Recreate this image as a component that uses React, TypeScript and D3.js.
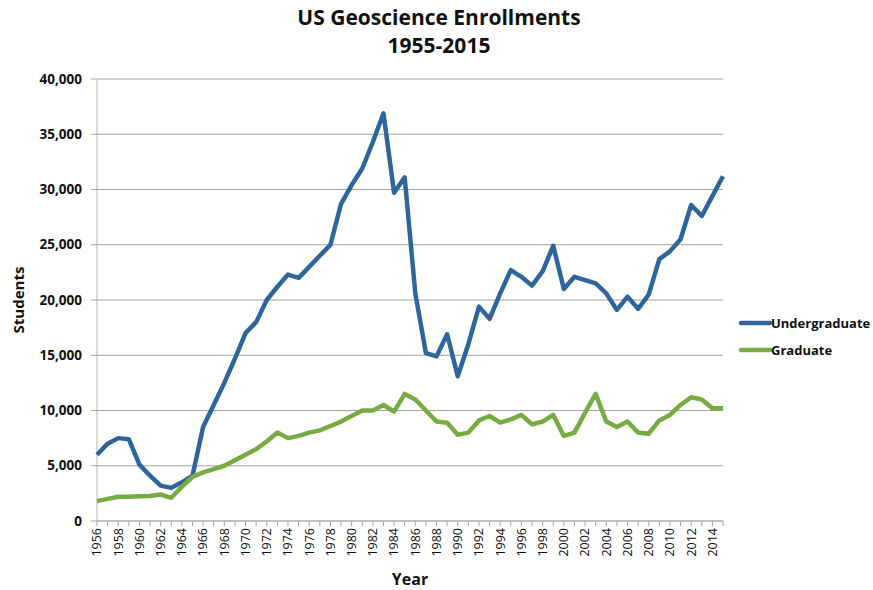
import * as d3 from 'd3';

const years = d3.range(1956, 2016);

const undergraduate = [
  6000, 7000, 7500, 7400, 5100, 4100, 3200, 3000, 3500, 4100,
  8500, 10500, 12500, 14700, 17000, 18000, 20000, 21200, 22300, 22000,
  23000, 24000, 25000, 28700, 30400, 31900, 34300, 36900, 29700, 31100,
  20600, 15200, 14900, 16900, 13100, 16000, 19400, 18300, 20600, 22700,
  22100, 21300, 22600, 24900, 21000, 22100, 21800, 21500, 20600, 19100,
  20300, 19200, 20500, 23700, 24400, 25500, 28600, 27600, 29400, 31200,
];

const graduate = [
  1800, 2000, 2200, 2200, 2250, 2270, 2400, 2100, 3100, 4000,
  4400, 4700, 5000, 5500, 6000, 6500, 7200, 8000, 7500, 7700,
  8000, 8200, 8600, 9000, 9500, 10000, 10000, 10500, 9900, 11500,
  11000, 10000, 9000, 8900, 7800, 8000, 9100, 9500, 8900, 9200,
  9600, 8750, 9000, 9600, 7700, 8000, 9800, 11500, 9000, 8500,
  9000, 8000, 7900, 9100, 9600, 10500, 11200, 11000, 10200, 10200,
];

const yTicks = [0, 5000, 10000, 15000, 20000, 25000, 30000, 35000, 40000];

const series = [
  { name: 'Undergraduate', values: undergraduate, color: '#2f659f' },
  { name: 'Graduate', values: graduate, color: '#77ac42' },
];

const font = '"Open Sans", "DejaVu Sans", sans-serif';

export default function App() {
  const width = 873;
  const height = 590;
  const left = 97;
  const right = 723;
  const top = 79;
  const bottom = 521;

  const x = d3.scaleLinear().domain([1956, 2015]).range([left, right]);
  const y = d3.scaleLinear().domain([0, 40000]).range([bottom, top]);
  const fmt = d3.format(',');

  const line = d3
    .line<number>()
    .x((_, i) => x(years[i]))
    .y((d) => y(d));

  return (
    <svg
      width={width}
      height={height}
      style={{ position: 'absolute', left: 0, top: 0, background: '#fff' }}
      fontFamily={font}
    >
      {/* Title */}
      <text x={439} y={25} textAnchor="middle" fontSize={21} fontWeight="bold" fill="#111">
        US Geoscience Enrollments
      </text>
      <text x={439} y={53} textAnchor="middle" fontSize={21} fontWeight="bold" fill="#111">
        1955-2015
      </text>

      {/* Gridlines */}
      {yTicks.map((t) => (
        <line key={t} x1={left} x2={right} y1={y(t)} y2={y(t)} stroke="#a3a3a3" strokeWidth={1} />
      ))}

      {/* Y axis */}
      <line x1={left} x2={left} y1={top} y2={bottom} stroke="#b5b5b5" strokeWidth={1} />
      {yTicks.map((t) => (
        <g key={'yt' + t}>
          <line x1={left - 6} x2={left} y1={y(t)} y2={y(t)} stroke="#a3a3a3" />
          <text
            x={left - 15}
            y={y(t)}
            dy="0.35em"
            textAnchor="end"
            fontSize={13.5}
            fontWeight="bold"
            fill="#111"
          >
            {fmt(t)}
          </text>
        </g>
      ))}
      <text
        transform={`translate(24,${(top + bottom) / 2}) rotate(-90)`}
        textAnchor="middle"
        fontSize={15}
        fontWeight="bold"
        fill="#111"
      >
        Students
      </text>

      {/* X axis */}
      <line x1={left} x2={right} y1={bottom} y2={bottom} stroke="#b5b5b5" />
      {years.map((yr) => (
        <line key={'xt' + yr} x1={x(yr)} x2={x(yr)} y1={bottom} y2={bottom + 5} stroke="#a3a3a3" />
      ))}
      {years
        .filter((yr) => yr % 2 === 0)
        .map((yr) => (
          <text
            key={'xl' + yr}
            transform={`translate(${x(yr)},${bottom + 7}) rotate(-90)`}
            textAnchor="end"
            dy="0.35em"
            fontSize={12.5}
            fill="#111"
          >
            {yr}
          </text>
        ))}
      <text x={410} y={585} textAnchor="middle" fontSize={16} fontWeight="bold" fill="#111">
        Year
      </text>

      {/* Lines */}
      {series.map((s) => (
        <path
          key={s.name}
          d={line(s.values) ?? ''}
          fill="none"
          stroke={s.color}
          strokeWidth={4.5}
          strokeLinejoin="round"
        />
      ))}

      {/* Legend */}
      {series.map((s, i) => (
        <g key={'lg' + s.name} transform={`translate(741,${323 + i * 27})`}>
          <line x1={0} x2={29} y1={0} y2={0} stroke={s.color} strokeWidth={4.5} strokeLinecap="round" />
          <text x={30} y={0} dy="0.35em" fontSize={13} fontWeight="bold" fill="#111">
            {s.name}
          </text>
        </g>
      ))}
    </svg>
  );
}
